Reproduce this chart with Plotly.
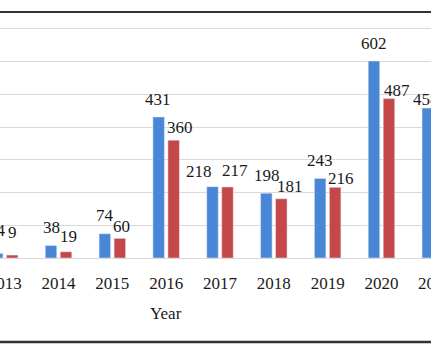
import plotly.graph_objects as go

# ---- data ----
years = [2013, 2014, 2015, 2016, 2017, 2018, 2019, 2020, 2021]
series_blue = [14, 38, 74, 431, 218, 198, 243, 602, 458]
series_red = [9, 19, 60, 360, 217, 181, 216, 487, None]
tick_labels = [str(y) for y in years]
x_title = "Year"

# ---- label nudges (px) ----
blue_dx = [0, 0, 0, -1, -13, 1, 0, 0, -2]
blue_dy = [23, 18, 18, 17, 15, 18, 18, 17, 9]
red_dx = [0, 2, 2, 6, 8, 9, 6, 8, 0]
red_dy = [23, 15, 12, 13, 16, 12, 9, 8, 0]

W, H = 431, 360
ML, MR, MT, MB = 0, 0, 14, 102
x0, x1 = 2012.913, 2020.92
y0, y1 = 0, 745.5
bargap, bargroupgap = 0.4427, 0.233
BLUE, RED = "#4A86D6", "#C4474A"
FONT = "Liberation Serif"
FS = 17
TXT = "#1a1a1a"

ppu = (W - ML - MR) / (x1 - x0)
slot_px = (1 - bargap) / 2 * ppu
plot_h = H - MT - MB


def xpaper(v):
    return (v - x0) / (x1 - x0)


fig = go.Figure()
fig.add_trace(go.Bar(x=years, y=series_blue, marker_color=BLUE, name="A"))
fig.add_trace(go.Bar(x=years, y=series_red, marker_color=RED, name="B"))

anns = []
for i, yr in enumerate(years):
    for vals, off, dxs, dys in ((series_blue, -slot_px / 2, blue_dx, blue_dy),
                                (series_red, slot_px / 2, red_dx, red_dy)):
        v = vals[i]
        if v is None:
            continue
        anns.append(dict(x=xpaper(yr), xref="paper", y=v, yref="y",
                         text=str(v), showarrow=False, xanchor="center",
                         yanchor="middle", xshift=off + dxs[i], yshift=dys[i],
                         font=dict(family=FONT, size=FS, color=TXT)))

# tick label for the category beyond the visible range
anns.append(dict(x=xpaper(years[-1]), xref="paper", y=-25 / plot_h, yref="paper",
                 text=tick_labels[-1], showarrow=False, xanchor="center",
                 yanchor="middle", font=dict(family=FONT, size=FS, color=TXT)))

anns.append(dict(x=166 / W, xref="paper", y=-55 / plot_h, yref="paper",
                 text=x_title, showarrow=False, xanchor="center", yanchor="middle",
                 font=dict(family=FONT, size=FS, color=TXT)))

shapes = [
    dict(type="line", xref="paper", yref="paper", x0=0, x1=1,
         y0=(plot_h + MT - 12) / plot_h, y1=(plot_h + MT - 12) / plot_h,
         line=dict(color="#333333", width=2)),
    dict(type="line", xref="paper", yref="paper", x0=0, x1=1,
         y0=-(342 - MT - plot_h) / plot_h, y1=-(342 - MT - plot_h) / plot_h,
         line=dict(color="#333333", width=2.5)),
]

fig.update_layout(
    width=W, height=H,
    margin=dict(l=ML, r=MR, t=MT, b=MB, pad=0, autoexpand=False),
    paper_bgcolor="white", plot_bgcolor="white",
    barmode="group", bargap=bargap, bargroupgap=bargroupgap,
    showlegend=False,
    annotations=anns, shapes=shapes,
    font=dict(family=FONT, size=FS, color=TXT),
)
fig.update_xaxes(range=[x0, x1], tickmode="array", tickvals=years[:-1],
                 ticktext=tick_labels[:-1], ticks="outside", ticklen=10,
                 tickcolor="rgba(0,0,0,0)", showgrid=False, zeroline=False,
                 showline=False, automargin=False, ticklabeloverflow="allow",
                 tickfont=dict(family=FONT, size=FS, color=TXT))
fig.update_yaxes(range=[y0, y1], tickvals=[100, 200, 300, 400, 500, 600, 700],
                 showticklabels=False, showgrid=True, gridcolor="#d9d9d9",
                 gridwidth=1, zeroline=True, zerolinecolor="#d9d9d9",
                 zerolinewidth=1, showline=False, automargin=False)

fig.write_html("out.html", config={"displayModeBar": False},
               post_script="document.body.style.margin='0';document.body.style.overflow='hidden';")
